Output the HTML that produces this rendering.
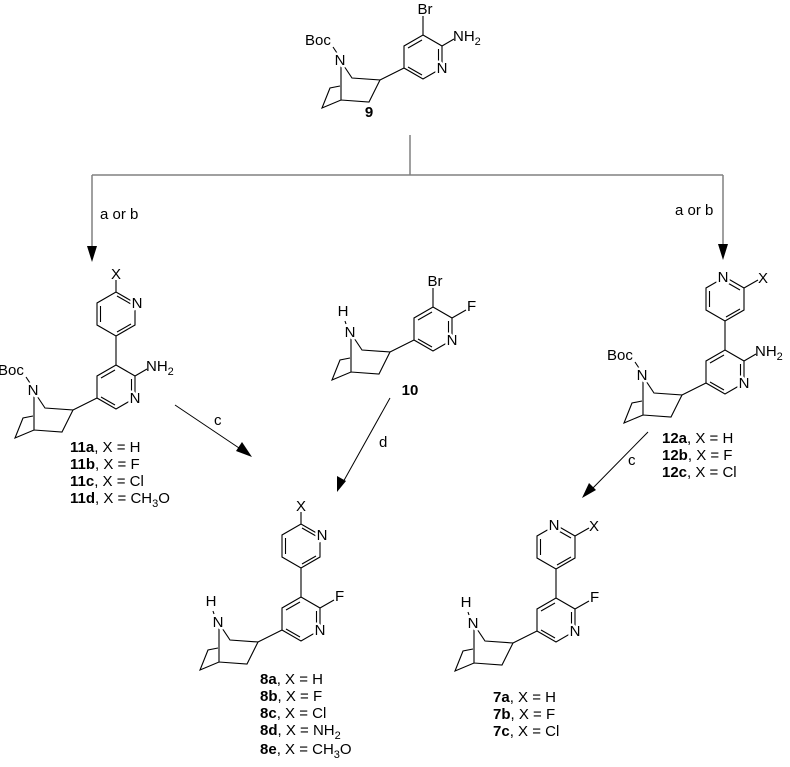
<!DOCTYPE html>
<html><head><meta charset="utf-8"><style>
html,body{margin:0;padding:0;background:#fff}
svg{display:block}
text{font-family:"Liberation Sans",sans-serif;font-size:15px;fill:#000}
.a{stroke:#fff;stroke-width:5px;paint-order:stroke;stroke-linejoin:round}
.b{font-weight:bold}
</style></head><body>
<svg width="790" height="767" viewBox="0 0 790 767" xmlns="http://www.w3.org/2000/svg">
<g fill="none" stroke="#000" stroke-width="1.1">
<g transform="translate(340,60)">
<path d="M1,6L1,40M4,6L12,18L40,20L29,42L1,40L-18,48L-10,28L0,26M40,20L64,8M-3,-7L-7,-13"/>
<path d="M83,-25L102,-14L102,8L83,19L64,8L64,-14Z M68,-12L82,-20M98.5,-11L98.5,5M82,15L68,7M83,-25L83,-44M102,-14L114,-21"/>
</g>
<g transform="translate(33,390)">
<path d="M1,6L1,40M4,6L12,18L40,20L29,42L1,40L-18,48L-10,28L0,26M40,20L64,8M-3,-7L-7,-13"/>
<path d="M83,-25L102,-14L102,8L83,19L64,8L64,-14Z M68,-12L82,-20M98.5,-11L98.5,5M82,15L68,7M102,-14L114,-21"/>
<path d="M83,-25L83,-54M83,-54L102,-65L102,-87L83,-98L64,-87L64,-65Z M84,-94L98,-86M67.5,-84L67.5,-68M84,-58L98,-66M83,-98L83,-110"/>
</g>
<g transform="translate(350,332)">
<path d="M1,6L1,40M4,6L12,18L40,20L29,42L1,40L-18,48L-10,28L0,26M40,20L64,8M-4,-8L-5,-11"/>
<path d="M83,-25L102,-14L102,8L83,19L64,8L64,-14Z M68,-12L82,-20M98.5,-11L98.5,5M82,15L68,7M83,-25L83,-44M102,-14L116,-22"/>
</g>
<g transform="translate(642,375)">
<path d="M1,6L1,40M4,6L12,18L40,20L29,42L1,40L-18,48L-10,28L0,26M40,20L64,8M-3,-7L-7,-13"/>
<path d="M83,-25L102,-14L102,8L83,19L64,8L64,-14Z M68,-12L82,-20M98.5,-11L98.5,5M82,15L68,7M102,-14L114,-21"/>
<path d="M83,-25L83,-54M83,-54L102,-65L102,-87L83,-98L64,-87L64,-65Z M84,-93L98,-85M67.5,-84L67.5,-68M84,-58L98,-66M102,-87L116,-95"/>
</g>
<g transform="translate(218,622)">
<path d="M1,6L1,40M4,6L12,18L40,20L29,42L1,40L-18,48L-10,28L0,26M40,20L64,8M-4,-8L-5,-11"/>
<path d="M83,-25L102,-14L102,8L83,19L64,8L64,-14Z M68,-12L82,-20M98.5,-11L98.5,5M82,15L68,7M102,-14L116,-22"/>
<path d="M83,-25L83,-54M83,-54L102,-65L102,-87L83,-98L64,-87L64,-65Z M84,-94L98,-86M67.5,-84L67.5,-68M84,-58L98,-66M83,-98L83,-110"/>
</g>
<g transform="translate(473,623)">
<path d="M1,6L1,40M4,6L12,18L40,20L29,42L1,40L-18,48L-10,28L0,26M40,20L64,8M-4,-8L-5,-11"/>
<path d="M83,-25L102,-14L102,8L83,19L64,8L64,-14Z M68,-12L82,-20M98.5,-11L98.5,5M82,15L68,7M102,-14L116,-22"/>
<path d="M83,-25L83,-54M83,-54L102,-65L102,-87L83,-98L64,-87L64,-65Z M84,-93L98,-85M67.5,-84L67.5,-68M84,-58L98,-66M102,-87L116,-95"/>
</g>
</g>
<g stroke="#808080" stroke-width="1.5" fill="none">
<path d="M410,135L410,175M92,175L723,175M92,175L92,248M723,175L723,246"/>
</g>
<g fill="#000" stroke="none">
<path d="M92,262L87,246L97,246Z"/>
<path d="M723,260L718,244L728,244Z"/>
</g>
<g stroke="#000" stroke-width="1" fill="none">
<path d="M175,405L245,452M390,398L342,484M648,432L590,491"/>
</g>
<g fill="#000">
<path d="M252,457L236,451L242,442Z"/>
<path d="M337,492L337,476L346,481Z"/>
<path d="M582,498L589,483L596,490Z"/>
</g>
<g transform="translate(340,60)">
<text class="a" x="0" y="5" text-anchor="middle">N</text>
<text x="-35" y="-15">Boc</text>
<text class="a" x="102" y="13" text-anchor="middle">N</text>
<text x="85" y="-46" text-anchor="middle">Br</text>
<text x="113" y="-19">NH<tspan font-size="11" dy="4">2</tspan></text>
</g>
<text class="b" x="369" y="117" text-anchor="middle">9</text>
<g transform="translate(33,390)">
<text class="a" x="0" y="5" text-anchor="middle">N</text>
<text x="-35" y="-15">Boc</text>
<text class="a" x="102" y="13" text-anchor="middle">N</text>
<text class="a" x="104" y="-82" text-anchor="middle">N</text>
<text x="83" y="-111" text-anchor="middle">X</text>
<text x="113" y="-19">NH<tspan font-size="11" dy="4">2</tspan></text>
</g>
<text x="70" y="452"><tspan class="b">11a</tspan>, X = H</text>
<text x="70" y="469"><tspan class="b">11b</tspan>, X = F</text>
<text x="70" y="486"><tspan class="b">11c</tspan>, X = Cl</text>
<text x="70" y="503"><tspan class="b">11d</tspan>, X = CH<tspan font-size="11" dy="4">3</tspan><tspan dy="-4">O</tspan></text>
<g transform="translate(350,332)">
<text class="a" x="0" y="5" text-anchor="middle">N</text>
<text x="-7" y="-16" text-anchor="middle">H</text>
<text class="a" x="102" y="13" text-anchor="middle">N</text>
<text x="85" y="-46" text-anchor="middle">Br</text>
<text x="117" y="-21">F</text>
</g>
<text class="b" x="410" y="395" text-anchor="middle">10</text>
<g transform="translate(642,375)">
<text class="a" x="0" y="5" text-anchor="middle">N</text>
<text x="-35" y="-15">Boc</text>
<text class="a" x="102" y="13" text-anchor="middle">N</text>
<text class="a" x="81" y="-93" text-anchor="middle">N</text>
<text x="116" y="-92">X</text>
<text x="113" y="-19">NH<tspan font-size="11" dy="4">2</tspan></text>
</g>
<text x="662" y="443"><tspan class="b">12a</tspan>, X = H</text>
<text x="662" y="460"><tspan class="b">12b</tspan>, X = F</text>
<text x="662" y="477"><tspan class="b">12c</tspan>, X = Cl</text>
<g transform="translate(218,622)">
<text class="a" x="0" y="5" text-anchor="middle">N</text>
<text x="-7" y="-16" text-anchor="middle">H</text>
<text class="a" x="102" y="13" text-anchor="middle">N</text>
<text class="a" x="104" y="-82" text-anchor="middle">N</text>
<text x="83" y="-111" text-anchor="middle">X</text>
<text x="117" y="-21">F</text>
</g>
<text x="260" y="684"><tspan class="b">8a</tspan>, X = H</text>
<text x="260" y="701"><tspan class="b">8b</tspan>, X = F</text>
<text x="260" y="718"><tspan class="b">8c</tspan>, X = Cl</text>
<text x="260" y="735"><tspan class="b">8d</tspan>, X = NH<tspan font-size="11" dy="4">2</tspan></text>
<text x="260" y="754"><tspan class="b">8e</tspan>, X = CH<tspan font-size="11" dy="4">3</tspan><tspan dy="-4">O</tspan></text>
<g transform="translate(473,623)">
<text class="a" x="0" y="5" text-anchor="middle">N</text>
<text x="-7" y="-16" text-anchor="middle">H</text>
<text class="a" x="102" y="13" text-anchor="middle">N</text>
<text class="a" x="81" y="-93" text-anchor="middle">N</text>
<text x="116" y="-92">X</text>
<text x="117" y="-21">F</text>
</g>
<text x="493" y="702"><tspan class="b">7a</tspan>, X = H</text>
<text x="493" y="719"><tspan class="b">7b</tspan>, X = F</text>
<text x="493" y="736"><tspan class="b">7c</tspan>, X = Cl</text>
<text x="100" y="219">a or b</text>
<text x="675" y="215">a or b</text>
<text x="214" y="425">c</text>
<text x="379" y="447">d</text>
<text x="628" y="465">c</text>
</svg>
</body></html>
